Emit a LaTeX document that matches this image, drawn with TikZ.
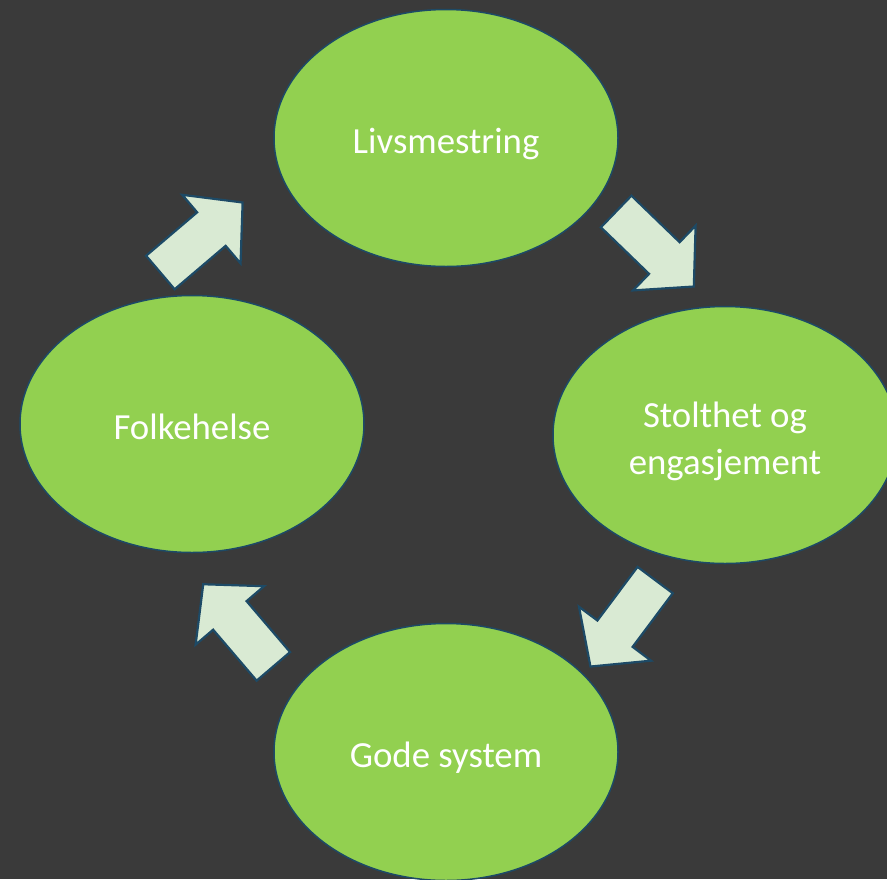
\documentclass[tikz,border=0pt]{standalone}
\usepackage{fontspec}
\setmainfont{Carlito}
\usetikzlibrary{shapes.geometric}
\definecolor{bakgrunn}{HTML}{3A3A3A}
\definecolor{gronn}{HTML}{92D050}
\definecolor{kant}{HTML}{1D4A66}
\definecolor{pilfarge}{HTML}{D9EAD3}

\tikzset{
	boble/.style={ellipse, draw=kant, line width=1.5pt, fill=gronn, minimum width=344pt, minimum height=257pt,
		text=white, align=center, font=\fontsize{36.8}{47}\selectfont, text height=37pt, text depth=7pt},
	blokkpil/.style={draw=kant, line width=2.2pt, fill=pilfarge, line join=miter}
}

% Blokkpil: midtpunkt x, y og vinkel
\newcommand{\blokkpil}[3]{%
	\begin{scope}[shift={(#1,#2)}, rotate=#3]
		\def\pilL{54}
		\def\skaft{22}
		\def\hode{45}
		\def\hodeL{41}
		\draw[blokkpil] (-\pilL,-\skaft) -- (\pilL-\hodeL,-\skaft) -- (\pilL-\hodeL,-\hode) -- (\pilL,0)
			-- (\pilL-\hodeL,\hode) -- (\pilL-\hodeL,\skaft) -- (-\pilL,\skaft) -- cycle;
	\end{scope}}

\begin{document}
\begin{tikzpicture}[x=1pt, y=-1pt]
		% Bakgrunn
		\fill[bakgrunn] (0,0) rectangle (887,879);
		\useasboundingbox (0,0) rectangle (887,879);

		% Bobler
		\node[boble] (liv) at (446,138) {Livsmestring};
		\node[boble, text height=85pt] (stolt) at (725,435) {Stolthet og\\engasjement};
		\node[boble] (gode) at (446,752) {Gode system};
		\node[boble] (folk) at (192,424) {Folkehelse};

		% Piler
		\blokkpil{201.5}{237.5}{40.4}
		\blokkpil{655}{249}{-44}
		\blokkpil{622.8}{623.3}{-126.8}
		\blokkpil{238.3}{625.3}{130.5}
	\end{tikzpicture}
\end{document}
